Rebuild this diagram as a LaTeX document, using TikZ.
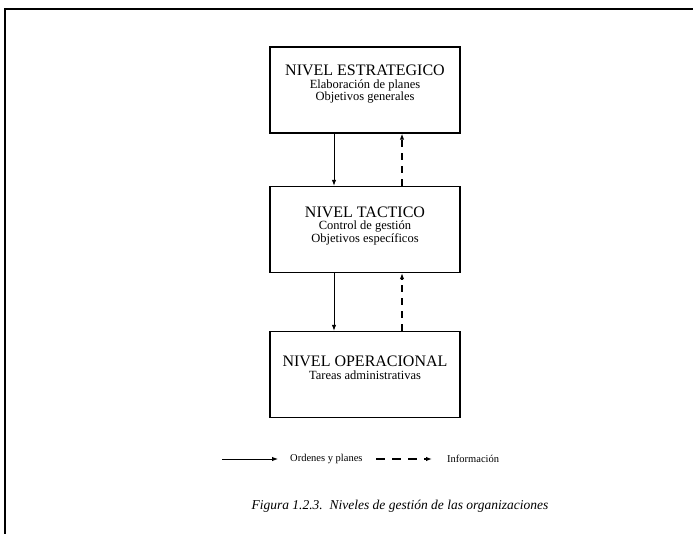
\documentclass[tikz,border=0pt]{standalone}
\usepackage{fontspec}
\setmainfont{Liberation Serif}
\usetikzlibrary{arrows.meta}
\begin{document}
\begin{tikzpicture}[x=1pt,y=-1pt,
  levelbox/.style={draw, line width=1.4pt, minimum width=190pt, minimum height=86pt, inner sep=0pt},
  leveltext/.style={anchor=north, align=center, inner sep=0pt, font=\fontsize{12.5}{12.5}\selectfont},
  order/.style={line width=0.9pt, -{Latex[length=6pt,width=4.5pt]}},
  info/.style={line width=1.1pt, dash pattern=on 7pt off 6pt, -{Latex[length=6pt,width=4.5pt]}},
  legendtext/.style={anchor=west, inner sep=0pt, font=\fontsize{10.5}{12}\selectfont},
]
\useasboundingbox (0,0) rectangle (693,534);
% page frame
\draw[line width=1.8pt] (5,534) -- (5,9) -- (693,9);

% levels
\node[levelbox] (est) at (365,90) {};
\node[levelbox] (tac) at (365,229.5) {};
\node[levelbox] (ope) at (365,374.5) {};

\node[leveltext] (estT) at ([yshift=-18.5pt]est.north)
  {{\fontsize{16}{12.5}\selectfont NIVEL ESTRATEGICO}\\Elaboración de planes\\Objetivos generales};
\node[leveltext] (tacT) at ([yshift=-20.5pt]tac.north)
  {{\fontsize{16}{12.5}\selectfont NIVEL TACTICO}\\Control de gestión\\Objetivos específicos};
\node[leveltext] (opeT) at ([yshift=-24.5pt]ope.north)
  {{\fontsize{16}{14}\selectfont NIVEL OPERACIONAL}\\[1pt]Tareas administrativas};

% orders go down, information goes up
\draw[order] ([xshift=-31pt]est.south) -- ([xshift=-31pt]tac.north);
\draw[order] ([xshift=-31pt]tac.south) -- ([xshift=-31pt]ope.north);
\draw[info] ([xshift=37pt]tac.north) -- ([xshift=37pt]est.south);
\draw[info] ([xshift=37pt]ope.north) -- ([xshift=37pt]tac.south);

% legend
\coordinate (l1a) at (222,459);
\coordinate (l1b) at (278,459);
\coordinate (l2a) at (376,459);
\coordinate (l2b) at (432,459);
\draw[order] (l1a) -- (l1b);
\node[legendtext] (l1t) at (290,459) {Ordenes y planes};
\draw[info, dash pattern=on 9pt off 7pt] (l2a) -- (l2b);
\node[legendtext] (l2t) at (447,459) {Información};

% caption
\node[inner sep=0pt, font=\fontsize{13.5}{14}\selectfont\itshape] (cap) at (400,506)
  {Figura 1.2.3.\ \ Niveles de gestión de las organizaciones};
\end{tikzpicture}
\end{document}
